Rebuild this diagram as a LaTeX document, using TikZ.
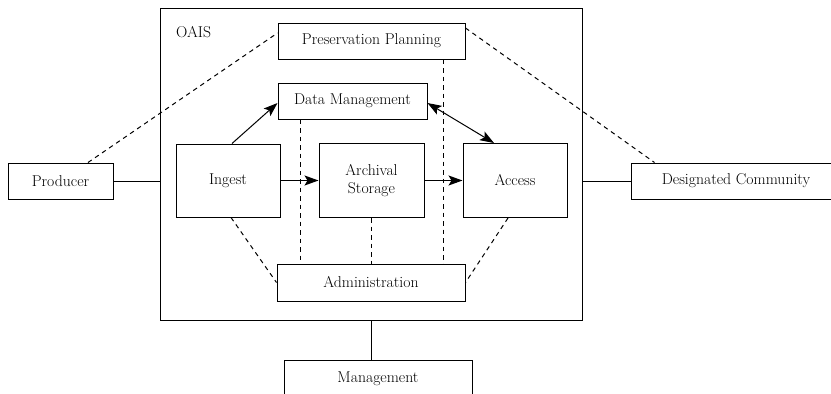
\documentclass[tikz,border=0pt]{standalone}
\usetikzlibrary{arrows.meta}
\begin{document}
\begin{tikzpicture}[x=1pt,y=-1pt,
  box/.style={draw,line width=1pt,rectangle,inner sep=0pt,align=center,font=\fontsize{15.7}{18}\selectfont},
  conn/.style={line width=1pt},
  dsh/.style={line width=1pt,dash pattern=on 4.5pt off 4pt},
  arr/.style={line width=1pt,-{Stealth[length=14pt,width=10pt,inset=3pt]}},
  darr/.style={line width=1pt,{Stealth[length=14pt,width=10pt,inset=3pt]}-{Stealth[length=14pt,width=10pt,inset=3pt]}}]
\useasboundingbox (0,0) rectangle (831,394);
\node[box,minimum width=422pt,minimum height=312pt] (oais) at (371,164) {};
\node[font=\fontsize{15.7}{18}\selectfont,anchor=west,inner sep=0pt] (oaislbl) at (176,32) {OAIS};
\node[box,minimum width=187pt,minimum height=36pt] (pp) at (371.5,41) {Preservation Planning};
\node[box,minimum width=149pt,minimum height=36pt] (dm) at (352.5,101) {Data Management};
\node[box,minimum width=104pt,minimum height=73pt] (ing) at (228,180.5) {Ingest};
\node[box,minimum width=105pt,minimum height=74pt] (as) at (371.5,180.5) {Archival\\Storage};
\node[box,minimum width=104pt,minimum height=74pt] (acc) at (515,180.5) {Access};
\node[box,minimum width=188pt,minimum height=37pt] (adm) at (371,282.5) {Administration};
\node[box,minimum width=188pt,minimum height=37pt] (mgmt) at (378,378.5) {Management};
\node[box,minimum width=105pt,minimum height=36pt] (prod) at (60.5,181) {Producer};
\node[box,minimum width=210pt,minimum height=36pt] (dc) at (736,181) {Designated Community};
\coordinate (v1) at (300,0);
\coordinate (v2) at (371,0);
\coordinate (v3) at (443,0);
% solid connectors
\draw[conn] (prod.east) -- (prod.east -| oais.west);
\draw[conn] (dc.west) -- (dc.west -| oais.east);
\draw[conn] (oais.south -| v2) -- (mgmt.north -| v2);
% arrows
\draw[arr] ([xshift=4pt]ing.north) -- ([yshift=-2pt]dm.west);
\draw[arr] (ing.east) -- (as.west);
\draw[arr] (as.east) -- (acc.west);
\draw[darr] ([yshift=-2pt]dm.east) -- ([xshift=-21pt]acc.north);
% dashed
\draw[dsh] ([xshift=27.5pt]prod.north) -- ([yshift=8pt]pp.west);
\draw[dsh] ([yshift=13pt]pp.east) -- ([xshift=24pt]dc.north west);
\draw[dsh] (pp.south -| v3) -- (adm.north -| v3);
\draw[dsh] (dm.south -| v1) -- (adm.north -| v1);
\draw[dsh] (as.south -| v2) -- (adm.north -| v2);
\draw[dsh] ([xshift=3pt]ing.south) -- (adm.west);
\draw[dsh] ([xshift=-7pt]acc.south) -- (adm.east);
\end{tikzpicture}
\end{document}
